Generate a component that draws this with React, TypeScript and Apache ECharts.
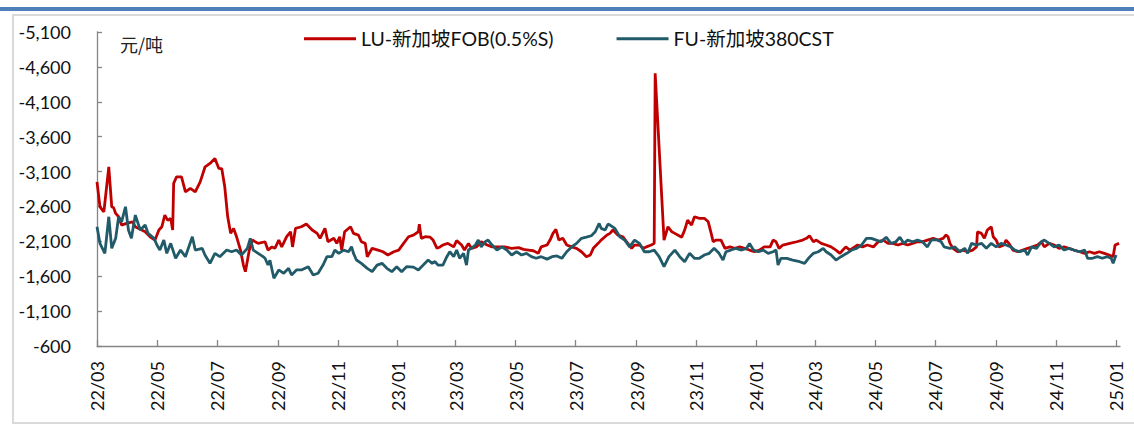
import React, { useEffect, useRef } from "react";
import * as echarts from "echarts";

const LU_NAME = "LU-新加坡FOB(0.5%S)";
const FU_NAME = "FU-新加坡380CST";
const UNIT = "元/吨";

const xTickDates = [
  "2022-03-01", "2022-05-01", "2022-07-01", "2022-09-01", "2022-11-01",
  "2023-01-01", "2023-03-01", "2023-05-01", "2023-07-01", "2023-09-01", "2023-11-01",
  "2024-01-01", "2024-03-01", "2024-05-01", "2024-07-01", "2024-09-01", "2024-11-01",
  "2025-01-01",
];
const yTicks = [-5100, -4600, -4100, -3600, -3100, -2600, -2100, -1600, -1100, -600];
const xMinDate = "2022-03-01";
const xMaxDate = "2025-01-05";

const luDates = [
  "2022-03-01","2022-03-04","2022-03-08","2022-03-13","2022-03-16","2022-03-18","2022-03-20","2022-03-23","2022-03-26","2022-03-31",
  "2022-04-06","2022-04-09","2022-04-12","2022-04-19","2022-04-24","2022-04-29","2022-05-03","2022-05-06","2022-05-09","2022-05-12",
  "2022-05-15","2022-05-17","2022-05-18","2022-05-21","2022-05-26","2022-05-30","2022-06-04","2022-06-09","2022-06-14","2022-06-19",
  "2022-06-24","2022-06-29","2022-07-03","2022-07-06","2022-07-09","2022-07-12","2022-07-15","2022-07-18","2022-07-21","2022-07-25",
  "2022-07-28","2022-07-30","2022-08-03","2022-08-06","2022-08-12","2022-08-19","2022-08-22","2022-08-26","2022-08-29","2022-09-02",
  "2022-09-05","2022-09-10","2022-09-14","2022-09-16","2022-09-19","2022-09-25","2022-09-30","2022-10-06","2022-10-11","2022-10-14",
  "2022-10-19","2022-10-22","2022-10-28","2022-10-31","2022-11-03","2022-11-05","2022-11-08","2022-11-14","2022-11-17","2022-11-22",
  "2022-11-25","2022-11-29","2022-12-01","2022-12-06","2022-12-12","2022-12-17","2022-12-22","2022-12-28","2023-01-02","2023-01-07",
  "2023-01-12","2023-01-17","2023-01-22","2023-01-23","2023-01-25","2023-01-29","2023-02-03","2023-02-06","2023-02-10","2023-02-13",
  "2023-02-16","2023-02-21","2023-02-27","2023-03-02","2023-03-07","2023-03-10","2023-03-14","2023-03-17","2023-03-22","2023-03-27",
  "2023-04-02","2023-04-07","2023-04-13","2023-04-20","2023-04-27","2023-05-04","2023-05-09","2023-05-14","2023-05-19","2023-05-24",
  "2023-05-27","2023-06-02","2023-06-05","2023-06-08","2023-06-11","2023-06-14","2023-06-18","2023-06-22","2023-06-27","2023-07-02",
  "2023-07-07","2023-07-12","2023-07-16","2023-07-19","2023-07-24","2023-07-27","2023-08-02","2023-08-05","2023-08-08","2023-08-13",
  "2023-08-18","2023-08-22","2023-08-27","2023-08-30","2023-09-04","2023-09-08","2023-09-11","2023-09-16","2023-09-19","2023-09-20",
  "2023-09-29","2023-10-03","2023-10-07","2023-10-10","2023-10-13","2023-10-17","2023-10-20","2023-10-23","2023-10-27","2023-10-30",
  "2023-11-04","2023-11-09","2023-11-13","2023-11-16","2023-11-18","2023-11-21","2023-11-26","2023-11-30","2023-12-05","2023-12-10",
  "2023-12-15","2023-12-20","2023-12-25","2023-12-30","2024-01-04","2024-01-09","2024-01-15","2024-01-18","2024-01-21","2024-01-24",
  "2024-01-28","2024-02-04","2024-02-11","2024-02-17","2024-02-21","2024-02-24","2024-02-28","2024-03-02","2024-03-07","2024-03-12",
  "2024-03-17","2024-03-22","2024-03-26","2024-03-29","2024-04-01","2024-04-05","2024-04-10","2024-04-13","2024-04-18","2024-04-23",
  "2024-04-29","2024-05-04","2024-05-09","2024-05-14","2024-05-19","2024-05-24","2024-05-29","2024-06-03","2024-06-08","2024-06-13",
  "2024-06-18","2024-06-23","2024-06-29","2024-07-04","2024-07-09","2024-07-12","2024-07-14","2024-07-16","2024-07-19","2024-07-24",
  "2024-07-29","2024-08-03","2024-08-08","2024-08-12","2024-08-13","2024-08-17","2024-08-20","2024-08-23","2024-08-27","2024-08-29",
  "2024-09-01","2024-09-04","2024-09-09","2024-09-11","2024-09-14","2024-09-18","2024-09-23","2024-09-28","2024-10-03","2024-10-08",
  "2024-10-13","2024-10-17","2024-10-20","2024-10-25","2024-10-30","2024-11-04","2024-11-09","2024-11-14","2024-11-19","2024-11-25",
  "2024-11-30","2024-12-05","2024-12-10","2024-12-15","2024-12-20","2024-12-25","2024-12-29","2024-12-31","2025-01-04",
];
const luValues = [
  -2953,-2595,-2523,-3168,-2595,-2580,-2500,-2452,-2333,-2357,
  -2380,-2310,-2286,-2237,-2166,-2118,-2262,-2309,-2476,-2400,
  -2429,-2262,-2930,-3025,-3025,-2810,-2858,-2810,-2953,-3168,
  -3216,-3288,-3145,-3140,-2881,-2452,-2214,-2286,-2166,-1975,
  -1760,-1665,-1975,-2118,-2071,-2094,-1975,-2020,-2000,-2118,
  -2020,-2166,-2237,-2020,-2286,-2309,-2347,-2262,-2214,-2143,
  -2286,-2094,-2143,-2071,-2166,-1975,-2237,-2309,-2214,-2190,
  -2094,-2071,-1880,-2000,-1975,-1951,-1904,-1951,-1975,-2071,
  -2166,-2190,-2237,-2347,-2143,-2166,-2160,-2118,-2000,-2020,
  -2047,-2071,-2020,-2110,-2047,-1975,-2071,-2000,-2020,-2094,
  -2047,-2020,-2020,-2020,-2000,-2010,-1985,-1975,-1965,-1928,
  -2020,-2047,-2118,-2214,-2271,-2118,-2143,-2047,-2020,-2000,
  -1951,-1880,-1904,-2000,-2071,-2118,-2190,-2214,-2262,-2190,
  -2166,-2094,-2000,-2047,-2047,-2000,-2020,-2047,-2071,-4509,
  -2118,-2309,-2237,-2214,-2190,-2160,-2262,-2404,-2333,-2452,
  -2430,-2430,-2380,-2214,-2094,-2118,-2118,-2000,-2020,-2000,
  -2020,-2000,-1975,-1951,-1975,-2020,-2020,-2118,-2094,-2000,
  -2047,-2071,-2094,-2118,-2143,-2180,-2094,-2118,-2071,-2047,
  -2020,-1975,-1928,-1975,-2020,-1975,-2020,-2047,-2020,-2047,
  -2020,-2094,-2118,-2071,-2071,-2047,-2071,-2047,-2071,-2094,
  -2094,-2118,-2143,-2118,-2143,-2190,-2166,-2071,-2000,-1951,
  -1975,-1951,-1975,-2020,-2237,-2214,-2143,-2262,-2309,-2166,
  -2118,-2020,-2047,-2118,-2071,-1975,-1951,-1975,-2000,-2020,
  -2047,-2094,-2020,-2071,-2047,-2000,-2020,-2000,-1975,-1951,
  -1928,-1951,-1928,-1951,-1928,-1904,-1880,-2047,-2071,
];

const fuDates = [
  "2022-03-01","2022-03-04","2022-03-09","2022-03-13","2022-03-16","2022-03-20","2022-03-23","2022-03-26","2022-03-30","2022-04-02",
  "2022-04-05","2022-04-09","2022-04-14","2022-04-19","2022-04-22","2022-04-28","2022-05-01","2022-05-04","2022-05-08","2022-05-11",
  "2022-05-15","2022-05-20","2022-05-25","2022-05-30","2022-06-06","2022-06-09","2022-06-16","2022-06-19","2022-06-24","2022-06-29",
  "2022-07-04","2022-07-11","2022-07-16","2022-07-21","2022-07-26","2022-08-01","2022-08-04","2022-08-07","2022-08-12","2022-08-17",
  "2022-08-19","2022-08-22","2022-08-24","2022-08-28","2022-09-02","2022-09-07","2022-09-12","2022-09-15","2022-09-20","2022-09-25",
  "2022-10-02","2022-10-07","2022-10-12","2022-10-17","2022-10-21","2022-10-26","2022-10-29","2022-11-02","2022-11-07","2022-11-12",
  "2022-11-15","2022-11-17","2022-11-20","2022-11-25","2022-12-01","2022-12-06","2022-12-11","2022-12-16","2022-12-21","2022-12-26",
  "2022-12-31","2023-01-05","2023-01-10","2023-01-17","2023-01-22","2023-01-27","2023-02-01","2023-02-05","2023-02-08","2023-02-11",
  "2023-02-16","2023-02-20","2023-02-23","2023-02-27","2023-03-02","2023-03-05","2023-03-09","2023-03-12","2023-03-14","2023-03-17",
  "2023-03-21","2023-03-24","2023-03-27","2023-03-31","2023-04-03","2023-04-07","2023-04-12","2023-04-17","2023-04-22","2023-04-27",
  "2023-05-02","2023-05-07","2023-05-12","2023-05-17","2023-05-22","2023-05-27","2023-06-02","2023-06-07","2023-06-12","2023-06-17",
  "2023-06-22","2023-06-27","2023-07-02","2023-07-07","2023-07-12","2023-07-17","2023-07-21","2023-07-25","2023-07-27","2023-07-31",
  "2023-08-03","2023-08-05","2023-08-10","2023-08-15","2023-08-20","2023-08-25","2023-08-30","2023-09-04","2023-09-09","2023-09-14",
  "2023-09-19","2023-09-24","2023-09-29","2023-10-04","2023-10-10","2023-10-15","2023-10-20","2023-10-25","2023-10-30","2023-11-04",
  "2023-11-09","2023-11-14","2023-11-19","2023-11-24","2023-11-28","2023-12-01","2023-12-06","2023-12-11","2023-12-17","2023-12-22",
  "2023-12-25","2023-12-29","2024-01-03","2024-01-08","2024-01-13","2024-01-18","2024-01-21","2024-01-23","2024-01-26","2024-02-01",
  "2024-02-07","2024-02-14","2024-02-19","2024-02-23","2024-02-28","2024-03-04","2024-03-09","2024-03-12","2024-03-17","2024-03-22",
  "2024-03-27","2024-04-02","2024-04-07","2024-04-12","2024-04-17","2024-04-22","2024-04-27","2024-05-02","2024-05-07","2024-05-12",
  "2024-05-17","2024-05-22","2024-05-26","2024-05-30","2024-06-03","2024-06-08","2024-06-13","2024-06-18","2024-06-23","2024-06-27",
  "2024-07-02","2024-07-07","2024-07-10","2024-07-16","2024-07-21","2024-07-26","2024-07-31","2024-08-03","2024-08-07","2024-08-12",
  "2024-08-17","2024-08-22","2024-08-27","2024-09-01","2024-09-06","2024-09-11","2024-09-16","2024-09-20","2024-09-25","2024-09-30",
  "2024-10-03","2024-10-07","2024-10-12","2024-10-17","2024-10-20","2024-10-25","2024-10-30","2024-11-04","2024-11-09","2024-11-14",
  "2024-11-19","2024-11-25","2024-11-30","2024-12-03","2024-12-08","2024-12-13","2024-12-18","2024-12-23","2024-12-27","2024-12-29",
  "2025-01-01",
];
const fuValues = [
  -2309,-2071,-1928,-2452,-2000,-2143,-2452,-2380,-2595,-2262,
  -2143,-2476,-2262,-2333,-2214,-2143,-2047,-1975,-2118,-1928,
  -2071,-1857,-1975,-1880,-2166,-1975,-2000,-1900,-1785,-1928,
  -1880,-1975,-1950,-1975,-1904,-2000,-2143,-1975,-1928,-1880,
  -1857,-1760,-1830,-1570,-1690,-1642,-1713,-1618,-1690,-1690,
  -1737,-1618,-1642,-1760,-1880,-1880,-1975,-1928,-1975,-1951,
  -2023,-1928,-1832,-1785,-1713,-1665,-1760,-1785,-1713,-1665,
  -1737,-1665,-1737,-1730,-1690,-1760,-1832,-1785,-1810,-1760,
  -1760,-1880,-1951,-1880,-1975,-1857,-1928,-1760,-1975,-2000,
  -2047,-2118,-2020,-2094,-2118,-2047,-1975,-2020,-1975,-1904,
  -1951,-1904,-1928,-1880,-1857,-1880,-1845,-1880,-1890,-1857,
  -1951,-2020,-2071,-2143,-2160,-2180,-2237,-2357,-2286,-2262,
  -2347,-2333,-2286,-2166,-2118,-2020,-2118,-2071,-1951,-1951,
  -1975,-1880,-1737,-1880,-1975,-1880,-1808,-1928,-1857,-1857,
  -1904,-1928,-2000,-1928,-1832,-1951,-1975,-2000,-1975,-2000,
  -2071,-1975,-1951,-1975,-1928,-1951,-1975,-1760,-1857,-1857,
  -1832,-1808,-1785,-1857,-1928,-1951,-2000,-1951,-1904,-1832,
  -1880,-1928,-1975,-2000,-2047,-2143,-2143,-2118,-2094,-2160,
  -2071,-2094,-2160,-2071,-2118,-2094,-2118,-2094,-2020,-2118,
  -2125,-2094,-2020,-2000,-2020,-1951,-2000,-1928,-2071,-2047,
  -2071,-2000,-2071,-2020,-2071,-2047,-2020,-1975,-1951,-1975,
  -1904,-2020,-2000,-2094,-2118,-2071,-2020,-2047,-1975,-2000,
  -1975,-1951,-1975,-1857,-1857,-1880,-1857,-1880,-1857,-1785,
  -1904,
];

const toTs = (s: string) => {
  const [y, m, d] = s.split("-").map(Number);
  return new Date(y, m - 1, d).getTime();
};

const LATIN = 'Lato, "Noto Sans CJK SC", sans-serif';

export default function App() {
  const ref = useRef<HTMLDivElement>(null);

  useEffect(() => {
    if (!ref.current) return;
    const chart = echarts.init(ref.current, null, { renderer: "svg" });
    const xTicks = xTickDates.map(toTs);
    const fmtX = (v: number) => {
      const d = new Date(v);
      const yy = String(d.getFullYear() % 100).padStart(2, "0");
      const mm = String(d.getMonth() + 1).padStart(2, "0");
      return `${yy}/${mm}`;
    };
    chart.setOption({
      animation: false,
      backgroundColor: "#ffffff",
      color: ["#C00000", "#215A69"],
      grid: {
        left: 97,
        right: 14,
        top: 32,
        bottom: 80,
        containLabel: false,
        outerBoundsMode: "none",
      },
      legend: {
        data: [LU_NAME, FU_NAME],
        left: 304,
        top: 29,
        padding: 0,
        icon: "rect",
        itemWidth: 52,
        itemHeight: 3,
        itemGap: 63,
        textStyle: { fontSize: 19.5, fontFamily: LATIN, color: "#111" },
      },
      graphic: [
        { type: "rect", left: 0, top: 7, shape: { width: 1134, height: 4 }, style: { fill: "#4F7FBA" }, silent: true },
        {
          type: "rect",
          shape: { x: 13, y: 15, width: 1130, height: 408 },
          style: { fill: "none", stroke: "#D9D9D9", lineWidth: 2 },
          silent: true,
        },
        {
          type: "text",
          left: 120,
          top: 35,
          style: { text: UNIT, fontSize: 18, fontFamily: '"Noto Sans CJK SC"', fill: "#222" },
          silent: true,
        },
      ],
      xAxis: {
        type: "value",
        min: toTs(xMinDate),
        max: toTs(xMaxDate),
        splitLine: { show: false },
        axisLine: { lineStyle: { color: "#858585", width: 1.3 } },
        axisTick: { show: true, inside: true, length: 6, customValues: xTicks, lineStyle: { color: "#858585", width: 1.3 } },
        axisLabel: {
          customValues: xTicks,
          rotate: 90,
          margin: 15,
          fontSize: 18,
          fontFamily: LATIN,
          color: "#111",
          formatter: fmtX,
          showMinLabel: true,
          showMaxLabel: true,
          hideOverlap: false,
        },
      },
      yAxis: {
        type: "value",
        inverse: true,
        min: -5100,
        max: -600,
        splitLine: { show: false },
        axisLine: { show: true, lineStyle: { color: "#858585", width: 1.3 } },
        axisTick: { show: true, inside: true, length: 5, customValues: yTicks, lineStyle: { color: "#858585", width: 1.3 } },
        axisLabel: {
          customValues: yTicks,
          margin: 26,
          fontSize: 18,
          fontFamily: LATIN,
          color: "#111",
          formatter: (v: number) => v.toLocaleString("en-US"),
        },
      },
      series: [
        {
          name: LU_NAME,
          type: "line",
          showSymbol: false,
          symbol: "none",
          lineStyle: { width: 2.8, color: "#C00000" },
          itemStyle: { color: "#C00000" },
          data: luDates.map((d, i) => [toTs(d), luValues[i]]),
        },
        {
          name: FU_NAME,
          type: "line",
          showSymbol: false,
          symbol: "none",
          lineStyle: { width: 2.8, color: "#215A69" },
          itemStyle: { color: "#215A69" },
          data: fuDates.map((d, i) => [toTs(d), fuValues[i]]),
        },
      ],
    });
    return () => chart.dispose();
  }, []);

  return (
    <div
      ref={ref}
      style={{ position: "absolute", left: 0, top: 0, width: 1134, height: 426 }}
    />
  );
}
